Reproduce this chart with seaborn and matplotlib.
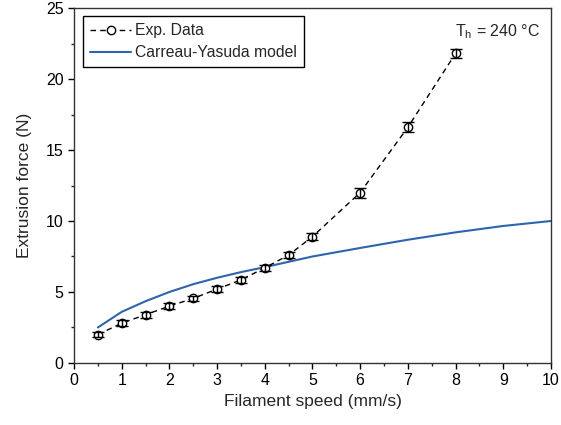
import matplotlib
matplotlib.use("Agg")
import matplotlib.pyplot as plt
import seaborn as sns
import pandas as pd
import numpy as np

# Experimental data
speed_exp = [0.5, 1.0, 1.5, 2.0, 2.5, 3.0, 3.5, 4.0, 4.5, 5.0, 6.0, 7.0, 8.0]
force_exp = [2.0, 2.8, 3.4, 4.0, 4.55, 5.2, 5.85, 6.7, 7.6, 8.9, 12.0, 16.6, 21.8]
force_err = [0.2, 0.2, 0.2, 0.2, 0.2, 0.2, 0.2, 0.2, 0.2, 0.25, 0.35, 0.35, 0.35]

# Carreau-Yasuda model curve
speed_model = [0.5, 1.0, 1.5, 2.0, 2.5, 3.0, 3.5, 4.0, 5.0, 6.0, 7.0, 8.0, 9.0, 10.0]
force_model = [2.5, 3.6, 4.35, 5.0, 5.55, 6.0, 6.4, 6.75, 7.5, 8.1, 8.68, 9.2, 9.65, 10.0]

sns.set_style("ticks")
plt.rcParams['font.family'] = ['Liberation Sans', 'DejaVu Sans']
plt.rcParams['mathtext.fontset'] = 'custom'
plt.rcParams['mathtext.rm'] = 'Liberation Sans'

fig = plt.figure(figsize=(5.61, 4.25), dpi=100)
ax = fig.add_axes([0.132, 0.146, 0.85, 0.835])

df_exp = pd.DataFrame({"speed": speed_exp, "force": force_exp})
df_model = pd.DataFrame({"speed": speed_model, "force": force_model})

sns.lineplot(data=df_exp, x="speed", y="force", ax=ax, color='black',
             linestyle=(0, (4, 3)), linewidth=1.0, marker='o', markersize=6,
             markerfacecolor='white', markeredgecolor='black', markeredgewidth=1.0,
             label="Exp. Data", zorder=3)
ax.errorbar(speed_exp, force_exp, yerr=force_err, fmt='none', ecolor='black',
            elinewidth=1.0, capsize=4.5, capthick=1.0, zorder=4)
sns.lineplot(data=df_model, x="speed", y="force", ax=ax, color='#2e64ad',
             linewidth=1.5, label="Carreau-Yasuda model", zorder=2)

ax.set_xlim(0, 10)
ax.set_ylim(0, 25)
ax.set_xticks(np.arange(0, 11, 1))
ax.set_yticks(np.arange(0, 26, 5))
ax.set_xticks(np.arange(0.5, 10, 1), minor=True)
ax.set_yticks(np.arange(2.5, 25, 5), minor=True)
ax.tick_params(axis='both', which='major', direction='out', length=4, width=1,
               labelsize=11.5, colors='black')
ax.tick_params(axis='both', which='minor', direction='out', length=2.5, width=1)
for s in ax.spines.values():
    s.set_visible(True)
    s.set_color('#333333')
    s.set_linewidth(1.0)

ax.set_xlabel("Filament speed (mm/s)", fontsize=12.5)
ax.set_ylabel("Extrusion force (N)", fontsize=12.5, labelpad=10)

leg = ax.legend(loc='upper left', fontsize=11.3, frameon=True, fancybox=False,
                edgecolor='black', framealpha=1, handlelength=2.6,
                borderpad=0.45, labelspacing=0.45, handletextpad=0.25,
                borderaxespad=0, bbox_to_anchor=(0.019, 0.977))
leg.get_frame().set_linewidth(1.0)

ax.text(0.977, 0.96, "T$_\\mathregular{h}$ = 240 °C", transform=ax.transAxes,
        ha='right', va='top', fontsize=11.5)

fig.savefig("out.png", dpi=100)
